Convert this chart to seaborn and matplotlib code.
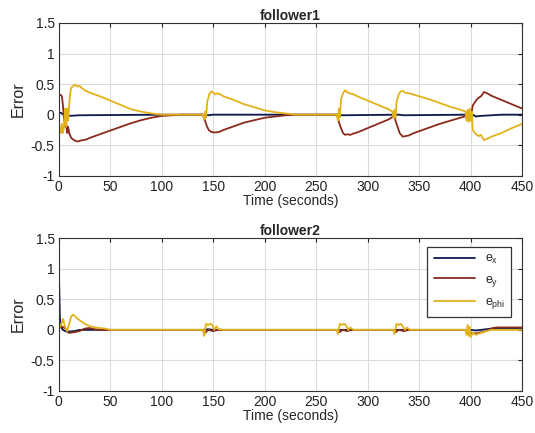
"""
Formation control - tracking error of the two followers
"""

import pandas as pd
import numpy as np
import matplotlib
matplotlib.use("Agg")
import matplotlib.pyplot as plt
from matplotlib.ticker import FuncFormatter, MultipleLocator
import seaborn as sns

# ── Style ──────────────────────────────────────────────────────────────────
sns.set_theme(style="whitegrid")
plt.rcParams["font.family"] = ["Liberation Sans", "DejaVu Sans"]
plt.rcParams["mathtext.fontset"] = "custom"
plt.rcParams["mathtext.rm"] = "Liberation Sans"
plt.rcParams["mathtext.it"] = "Liberation Sans"

COLORS = {"ex": "#0d1b4f", "ey": "#8a2a1c", "ephi": "#e2b21a"}
LABELS = {"ex": "$e_x$", "ey": "$e_y$", "ephi": "$e_{phi}$"}

# ── Data: follower1 ───────────────────────────────────────────────────────
f1_ex_t = [0, 2, 4, 6, 8, 10, 20, 100, 140, 145, 150, 270, 275, 330, 335,
           395, 400, 405, 410, 420, 430, 450]
f1_ex = [0.02, 0.03, 0.01, -0.02, 0.02, -0.02, -0.01, 0, 0, -0.01, 0, 0,
         -0.01, 0, -0.01, 0, 0.02, -0.03, -0.02, -0.01, 0, 0]

f1_ey_t = [0, 2, 3, 4, 5, 6, 7, 8, 9, 10, 12, 15, 18, 22, 26, 30, 40, 50, 60,
           70, 80, 90, 100, 110, 120, 140, 141, 142, 144, 146, 148, 150, 153,
           156, 160, 170, 180, 190, 200, 210, 220, 230, 270, 271, 272, 274,
           276, 278, 280, 283, 286, 290, 300, 310, 320, 325, 326, 327, 329,
           331, 334, 337, 340, 345, 350, 360, 370, 380, 390, 396, 398, 400,
           402, 404, 406, 408, 410, 413, 416, 420, 430, 440, 450]
f1_ey = [0.33, 0.32, 0.3, 0.15, -0.05, -0.2, -0.1, -0.3, -0.2, -0.3, -0.38,
         -0.42, -0.44, -0.42, -0.41, -0.38, -0.32, -0.26, -0.2, -0.14, -0.09,
         -0.05, -0.02, -0.01, 0.0, 0.0, -0.05, -0.1, -0.2, -0.26, -0.28,
         -0.29, -0.29, -0.28, -0.25, -0.19, -0.13, -0.09, -0.05, -0.03, -0.01,
         0.0, 0.0, -0.05, -0.12, -0.22, -0.3, -0.33, -0.32, -0.33, -0.31,
         -0.29, -0.22, -0.15, -0.08, -0.03, 0.0, -0.1, -0.2, -0.3, -0.36,
         -0.35, -0.34, -0.3, -0.27, -0.21, -0.15, -0.1, -0.05, -0.02, 0.05,
         -0.05, 0.15, 0.2, 0.25, 0.28, 0.3, 0.37, 0.35, 0.31, 0.24, 0.17, 0.1]

f1_ephi_t = [0, 1, 2, 3, 4, 5, 6, 7, 8, 9, 10, 11, 12, 14, 16, 18, 20, 22, 25,
             30, 40, 50, 60, 70, 80, 90, 100, 140, 141, 142, 143, 144, 146,
             148, 150, 152, 154, 157, 160, 170, 180, 190, 200, 210, 220, 230,
             270, 271, 272, 273, 274, 276, 278, 280, 282, 285, 290, 300, 310,
             320, 324, 325, 326, 327, 328, 330, 332, 334, 336, 340, 350, 360,
             370, 380, 390, 395, 396, 397, 398, 399, 400, 401, 402, 404, 406,
             408, 410, 413, 415, 418, 420, 430, 440, 450]
f1_ephi = [-0.1, -0.25, -0.3, -0.15, -0.3, -0.2, 0.1, -0.2, 0.1, -0.1, 0.15,
           0.35, 0.44, 0.47, 0.49, 0.46, 0.47, 0.44, 0.4, 0.36, 0.3, 0.23,
           0.16, 0.09, 0.05, 0.02, 0.0, 0.0, -0.08, 0.05, -0.05, 0.2, 0.33,
           0.38, 0.36, 0.33, 0.35, 0.33, 0.3, 0.24, 0.17, 0.12, 0.07, 0.04,
           0.02, 0.0, 0.0, -0.1, 0.1, -0.05, 0.25, 0.35, 0.4, 0.37, 0.35, 0.34,
           0.3, 0.23, 0.16, 0.09, 0.05, -0.05, 0.08, -0.05, 0.2, 0.33, 0.38,
           0.39, 0.36, 0.35, 0.3, 0.25, 0.19, 0.13, 0.08, 0.05, -0.1, 0.08,
           -0.12, 0.1, -0.1, 0.05, -0.25, -0.3, -0.33, -0.35, -0.33, -0.42,
           -0.4, -0.38, -0.36, -0.3, -0.22, -0.15]

# ── Data: follower2 ───────────────────────────────────────────────────────
f2_ex_t = [0, 0.5, 1, 2, 4, 6, 10, 15, 20, 30, 140, 145, 150, 400, 405, 420,
           425, 450]
f2_ex = [1.0, 0.6, 0.2, 0.05, 0.0, -0.02, -0.03, -0.02, 0.0, 0.0, 0, 0.01, 0,
         0, -0.01, 0.02, 0.03, 0.03]

f2_ey_t = [0, 3, 6, 8, 10, 14, 20, 25, 30, 35, 40, 140, 142, 145, 150, 155,
           270, 272, 276, 280, 284, 325, 327, 330, 335, 340, 396, 400, 405,
           410, 415, 420, 425, 450]
f2_ey = [0.03, 0.05, 0.03, -0.03, -0.05, -0.04, -0.02, 0.02, 0.03, 0.01, 0.0,
         0, -0.05, 0.0, -0.02, 0, 0, -0.04, 0.0, -0.02, 0, 0, -0.04, 0,
         -0.02, 0, 0, -0.05, -0.06, -0.04, -0.02, 0.02, 0.04, 0.04]

f2_ephi_t = [0, 2, 4, 6, 8, 10, 12, 14, 17, 20, 25, 30, 35, 40, 45, 50, 140,
             141, 142, 143, 145, 147, 149, 151, 153, 155, 160, 270, 271, 272,
             273, 275, 277, 279, 281, 283, 286, 325, 326, 327, 328, 330, 332,
             334, 336, 338, 341, 395, 396, 397, 398, 399, 400, 402, 405, 410,
             415, 420, 450]
f2_ephi = [0.02, 0.08, 0.18, 0.05, -0.02, 0.1, 0.22, 0.25, 0.2, 0.16, 0.1,
           0.06, 0.04, 0.03, 0.02, 0.0, 0.0, -0.1, 0.0, 0.1, 0.08, 0.1, 0.08,
           0.0, 0.06, 0.01, 0.0, 0.0, -0.07, 0.02, 0.1, 0.08, 0.1, 0.07, 0.0,
           0.04, 0.0, 0.0, -0.07, 0.02, 0.1, 0.08, 0.1, 0.06, 0.0, 0.04, 0.0,
           0.0, -0.08, 0.08, -0.1, 0.05, -0.12, -0.05, -0.08, -0.05, -0.02,
           0.0, 0.0]


def to_long(series):
    frames = []
    for name, (t, v) in series.items():
        frames.append(pd.DataFrame({"t": t, "err": v, "signal": name}))
    return pd.concat(frames, ignore_index=True)


df1 = to_long({"ex": (f1_ex_t, f1_ex), "ey": (f1_ey_t, f1_ey),
               "ephi": (f1_ephi_t, f1_ephi)})
df2 = to_long({"ex": (f2_ex_t, f2_ex), "ey": (f2_ey_t, f2_ey),
               "ephi": (f2_ephi_t, f2_ephi)})

# ── Figure ─────────────────────────────────────────────────────────────────
fig = plt.figure(figsize=(5.35, 4.33), dpi=100)
fig.patch.set_facecolor("white")
ax1 = fig.add_axes([0.110, 0.594, 0.866, 0.353])
ax2 = fig.add_axes([0.110, 0.097, 0.866, 0.353])

for ax, df, title in [(ax1, df1, "follower1"), (ax2, df2, "follower2")]:
    sns.lineplot(data=df, x="t", y="err", hue="signal", palette=COLORS,
                 hue_order=["ex", "ey", "ephi"], estimator=None, sort=True,
                 linewidth=1.3, ax=ax, legend=(ax is ax2))
    ax.set_xlim(0, 450)
    ax.set_ylim(-1, 1.5)
    ax.xaxis.set_major_locator(MultipleLocator(50))
    ax.yaxis.set_major_locator(MultipleLocator(0.5))
    ax.yaxis.set_major_formatter(FuncFormatter(lambda v, p: f"{v:g}"))
    ax.set_facecolor("white")
    ax.grid(True, color="#dcdcdc", linewidth=0.8)
    for sp in ax.spines.values():
        sp.set_color("#333333")
        sp.set_linewidth(0.8)
    ax.tick_params(direction="in", length=3, width=0.8, top=True, right=True,
                   labelsize=10, pad=3, colors="#222222")
    ax.set_title(title, fontsize=10, fontweight="bold", pad=2)
    ax.set_xlabel("Time (seconds)", fontsize=10, labelpad=0)
    ax.set_ylabel("Error", fontsize=11.5, labelpad=4)

handles, _ = ax2.get_legend_handles_labels()
leg = ax2.legend(handles, [LABELS[k] for k in ["ex", "ey", "ephi"]],
                 loc="upper right", bbox_to_anchor=(0.99, 0.985),
                 fontsize=9, frameon=True, fancybox=False, framealpha=1,
                 handlelength=3.3, borderpad=0.5, labelspacing=0.6)
leg.get_frame().set_edgecolor("#333333")
leg.get_frame().set_linewidth(0.9)

plt.savefig("out.png", dpi=100)
plt.close()
